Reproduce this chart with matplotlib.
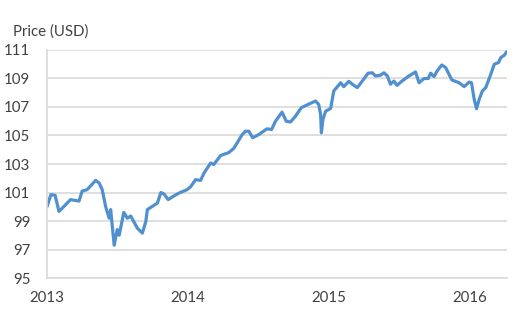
import pandas as pd
import matplotlib.pyplot as plt
import matplotlib.dates as mdates

# weekly-ish price series
dates = [
    "2013-01-01", "2013-01-11", "2013-01-22", "2013-02-01", "2013-03-03", "2013-03-25",
    "2013-04-02", "2013-04-15", "2013-05-07", "2013-05-16", "2013-05-24", "2013-06-02",
    "2013-06-11", "2013-06-15", "2013-06-24", "2013-07-02", "2013-07-07", "2013-07-19",
    "2013-07-28", "2013-08-06", "2013-08-23", "2013-09-05", "2013-09-14", "2013-09-18",
    "2013-10-05", "2013-10-14", "2013-10-23", "2013-10-31", "2013-11-11", "2013-11-22",
    "2013-12-09", "2013-12-30", "2014-01-08", "2014-01-21", "2014-02-03", "2014-02-12",
    "2014-03-01", "2014-03-09", "2014-03-27", "2014-04-17", "2014-04-30", "2014-05-22",
    "2014-05-30", "2014-06-08", "2014-06-18", "2014-07-04", "2014-07-25", "2014-08-06",
    "2014-08-16", "2014-09-02", "2014-09-13", "2014-09-24", "2014-10-07", "2014-10-22",
    "2014-11-10", "2014-11-28", "2014-12-06", "2014-12-11", "2014-12-13", "2014-12-17",
    "2014-12-24", "2015-01-06", "2015-01-14", "2015-02-01", "2015-02-09", "2015-02-22",
    "2015-03-03", "2015-03-16", "2015-03-29", "2015-04-13", "2015-04-24", "2015-05-02",
    "2015-05-15", "2015-05-24", "2015-06-02", "2015-06-10", "2015-06-19", "2015-06-27",
    "2015-07-10", "2015-07-28", "2015-08-14", "2015-08-23", "2015-09-05", "2015-09-16",
    "2015-09-22", "2015-10-01", "2015-10-09", "2015-10-21", "2015-10-31", "2015-11-16",
    "2015-12-05", "2015-12-18", "2015-12-31", "2016-01-06", "2016-01-13", "2016-01-19",
    "2016-01-26", "2016-02-03", "2016-02-12", "2016-02-25", "2016-03-05", "2016-03-16",
    "2016-03-22", "2016-03-31", "2016-04-06",
]
prices = [
    100.0, 100.85, 100.8, 99.67, 100.5, 100.4,
    101.1, 101.2, 101.85, 101.67, 101.2, 100.0,
    99.2, 99.8, 97.3, 98.4, 98.0, 99.6,
    99.2, 99.35, 98.5, 98.15, 98.96, 99.8,
    100.1, 100.25, 101.0, 100.9, 100.5, 100.7,
    100.96, 101.2, 101.4, 101.9, 101.85, 102.37,
    103.07, 102.96, 103.6, 103.8, 104.1, 105.07,
    105.3, 105.3, 104.84, 105.07, 105.47, 105.42,
    106.0, 106.64, 106.0, 105.95, 106.36, 106.95,
    107.2, 107.42, 107.18, 106.48, 105.19, 106.13,
    106.7, 106.9, 108.12, 108.7, 108.43, 108.8,
    108.6, 108.36, 108.82, 109.37, 109.4, 109.18,
    109.23, 109.4, 109.18, 108.6, 108.82, 108.52,
    108.82, 109.18, 109.46, 108.7, 109.0, 109.0,
    109.37, 109.13, 109.53, 109.95, 109.77, 108.9,
    108.7, 108.43, 108.75, 108.7, 107.54, 106.88,
    107.54, 108.12, 108.36, 109.3, 110.0, 110.12,
    110.47, 110.63, 110.87,
]
year_ticks = ["2013", "2014", "2015", "2016"]
y_ticks = [95, 97, 99, 101, 103, 105, 107, 109, 111]

plt.rcParams["font.family"] = ["Lato", "DejaVu Sans"]

df = pd.DataFrame({"date": pd.to_datetime(dates), "price": prices})

fig = plt.figure(figsize=(5.23, 3.14), dpi=100)
ax = fig.add_axes([0.0899, 0.1146, 0.8795, 0.7262])

ax.plot(df["date"], df["price"], color="#5090CF", linewidth=2.3,
        solid_joinstyle="round", solid_capstyle="round")

ax.set_ylim(95, 111)
ax.set_yticks(y_ticks)
ax.set_xlim(pd.Timestamp("2013-01-01"), pd.Timestamp("2016-04-07"))
ax.set_xticks(pd.to_datetime([y + "-01-01" for y in year_ticks]))
ax.xaxis.set_major_formatter(mdates.DateFormatter("%Y"))

ax.grid(axis="y", color="#d9d9d9", linewidth=1.2)
ax.set_axisbelow(True)
for side in ["top", "right"]:
    ax.spines[side].set_visible(False)
for side in ["left", "bottom"]:
    ax.spines[side].set_color("#d9d9d9")
    ax.spines[side].set_linewidth(1.2)

ax.tick_params(axis="both", length=0, labelsize=10.8, colors="#404040")
ax.tick_params(axis="y", pad=12)
ax.tick_params(axis="x", pad=9)

fig.text(0.025, 0.9, "Price (USD)", fontsize=10.8, color="#404040", va="center")

fig.savefig("out.png", dpi=100)
